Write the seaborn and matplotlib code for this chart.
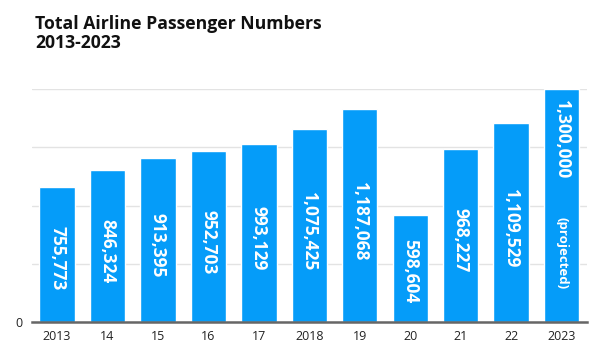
import matplotlib
matplotlib.use('Agg')
import matplotlib.pyplot as plt
import seaborn as sns
import pandas as pd

# data
years = ['2013', '14', '15', '16', '17', '2018', '19', '20', '21', '22', '2023']
passengers = [755773, 846324, 913395, 952703, 993129, 1075425, 1187068, 598604, 968227, 1109529, 1300000]
grid_ticks = [0, 325000, 650000, 975000, 1300000]

df = pd.DataFrame({'year': years, 'passengers': passengers})

sns.set_style('white')
plt.rcParams['font.family'] = ['Open Sans', 'DejaVu Sans']

fig = plt.figure(figsize=(6, 3.61), dpi=100)
ax = fig.add_axes([0.053, 0.108, 0.925, 0.645])

bar_color = '#059cf9'
sns.barplot(data=df, x='year', y='passengers', color=bar_color, width=0.7,
            saturation=1, ax=ax, zorder=2)

ax.set_ylim(0, 1300000)
ax.set_xlim(-0.5, len(years) - 0.5)
ax.set_yticks(grid_ticks)
ax.set_yticklabels(['0'] + [''] * (len(grid_ticks) - 1))
ax.yaxis.grid(True, color='#e3e3e3', linewidth=1, zorder=0)
ax.set_axisbelow(True)
ax.set_xlabel('')
ax.set_ylabel('')
for s in ['top', 'right', 'left']:
    ax.spines[s].set_visible(False)
ax.spines['bottom'].set_color('#666666')
ax.spines['bottom'].set_linewidth(1.8)
ax.tick_params(axis='both', length=0, labelsize=9, colors='#222222')
ax.tick_params(axis='x', pad=6)
ax.tick_params(axis='y', pad=7)

# value labels inside bars
for i, v in enumerate(passengers):
    if i == len(passengers) - 1:
        ax.text(i, v * 0.955, f'{v:,}', rotation=-90, ha='center', va='top',
                color='white', fontsize=12.5, fontweight='bold')
        ax.text(i, v * 0.14, '(projected)', rotation=-90, ha='center', va='bottom',
                color='white', fontsize=9.5, fontweight='bold')
    else:
        ax.text(i, v * 0.47, f'{v:,}', rotation=-90, ha='center', va='center',
                color='white', fontsize=12.5, fontweight='bold')

fig.text(0.058, 0.958, 'Total Airline Passenger Numbers\n2013-2023', ha='left', va='top',
         fontsize=12.7, fontweight='bold', color='#111111', linespacing=1.05)

fig.savefig('out.png', dpi=100)
